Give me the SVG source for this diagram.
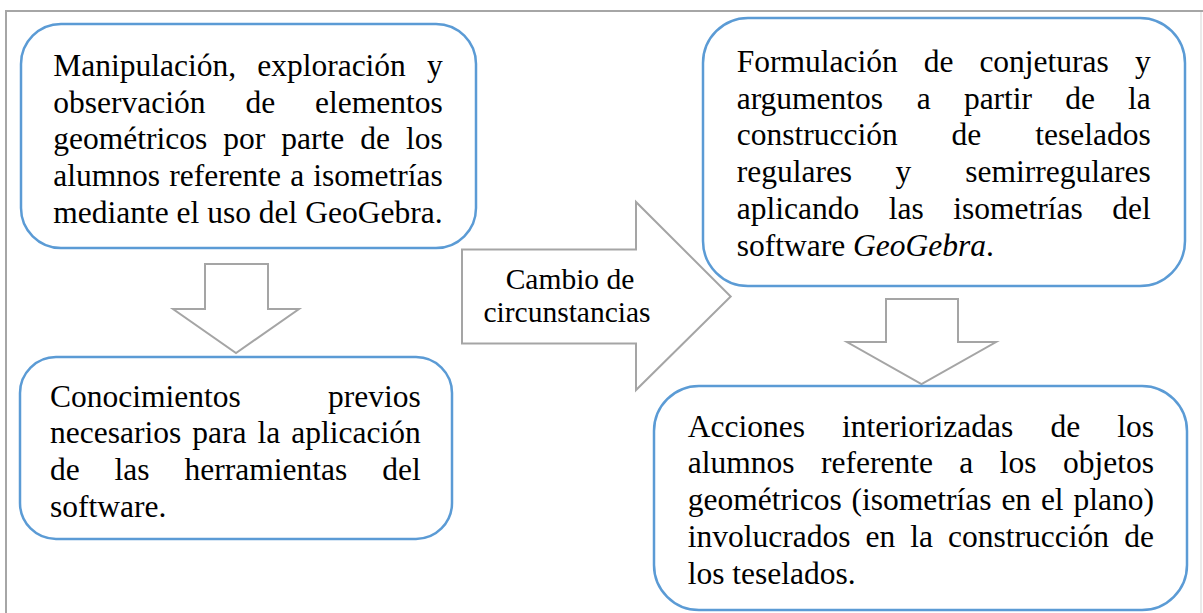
<svg xmlns="http://www.w3.org/2000/svg" width="1203" height="613" viewBox="0 0 1203 613">
<style>
.frame{stroke:#a6a6a6;stroke-width:2;fill:none}
.frame-r{stroke:#e3e3e3;stroke-width:1.5;fill:none}
.box{fill:#ffffff;stroke:#5b9bd5;stroke-width:2.5}
.blk{fill:#ffffff;stroke:#a5a5a5;stroke-width:2;stroke-linejoin:miter}
text{font-family:"Liberation Serif","Times New Roman",serif;font-size:31.5px;fill:#000000}
.lbl{font-size:29.5px;text-anchor:middle}
.e{text-anchor:end}
.i{font-style:italic}
</style>
<rect width="1203" height="613" fill="#ffffff"/>
<g id="frame">
<line class="frame" x1="6" y1="11" x2="1203" y2="11"/>
<line class="frame" x1="6" y1="10" x2="6" y2="613"/>
<line class="frame-r" x1="1201" y1="12" x2="1201" y2="613"/>
</g>
<g id="connectors">
<polygon class="blk" points="205,264 268,264 268,309 299,309 236,353 173,309 205,309"/>
<polygon class="blk" points="886,299 958,299 958,342 996,342 921.5,384 847,342 886,342"/>
<polygon class="blk" points="462,249.5 636,249.5 636,202 730.7,296.5 636,390 636,343.5 462,343.5"/>
<text class="lbl" x="570" y="289.3">Cambio de</text>
<text class="lbl" x="567" y="321.7">circunstancias</text>
</g>
<g id="node-manipulacion">
<rect class="box" x="21" y="24" width="455" height="224" rx="40" ry="40"/>
<text x="53.3" y="76">Manipulación,</text><text x="257.2" y="76">exploración</text><text class="e" x="442.7" y="76">y</text>
<text x="53.3" y="112.7">observación</text><text x="245.4" y="112.7">de</text><text class="e" x="442.7" y="112.7">elementos</text>
<text x="53.3" y="149.3">geométricos</text><text x="223.3" y="149.3">por</text><text x="281.3" y="149.3">parte</text><text x="360.3" y="149.3">de</text><text class="e" x="442.7" y="149.3">los</text>
<text x="53.3" y="186">alumnos</text><text x="169.2" y="186">referente</text><text x="290.2" y="186">a</text><text class="e" x="442.7" y="186">isometrías</text>
<text x="53.3" y="222.7">mediante el uso del GeoGebra.</text>
</g>
<g id="node-conocimientos">
<rect class="box" x="20" y="357" width="432" height="182" rx="36" ry="36"/>
<text x="50" y="406.7">Conocimientos</text><text class="e" x="420.7" y="406.7">previos</text>
<text x="50" y="443.3">necesarios</text><text x="192.2" y="443.3">para</text><text x="257.4" y="443.3">la</text><text class="e" x="420.7" y="443.3">aplicación</text>
<text x="50" y="480">de</text><text x="114.6" y="480">las</text><text x="184.5" y="480">herramientas</text><text class="e" x="420.7" y="480">del</text>
<text x="50" y="516.7">software.</text>
</g>
<g id="node-formulacion">
<rect class="box" x="703" y="18" width="482" height="268" rx="45" ry="45"/>
<text x="736.7" y="71.7">Formulación</text><text x="923.7" y="71.7">de</text><text x="979.4" y="71.7">conjeturas</text><text class="e" x="1150.7" y="71.7">y</text>
<text x="736.7" y="108.5">argumentos</text><text x="916.8" y="108.5">a</text><text x="963.9" y="108.5">partir</text><text x="1065.2" y="108.5">de</text><text class="e" x="1150.7" y="108.5">la</text>
<text x="736.7" y="145.3">construcción</text><text x="951.6" y="145.3">de</text><text class="e" x="1150.7" y="145.3">teselados</text>
<text x="736.7" y="182.1">regulares</text><text x="895.6" y="182.1">y</text><text class="e" x="1150.7" y="182.1">semirregulares</text>
<text x="736.7" y="218.9">aplicando</text><text x="888.7" y="218.9">las</text><text x="953.2" y="218.9">isometrías</text><text class="e" x="1150.7" y="218.9">del</text>
<text x="736.7" y="255.7">software <tspan class="i">GeoGebra</tspan>.</text>
</g>
<g id="node-acciones">
<rect class="box" x="654" y="386" width="533" height="224" rx="45" ry="45"/>
<text x="687.7" y="436.7">Acciones</text><text x="841.9" y="436.7">interiorizadas</text><text x="1050.4" y="436.7">de</text><text class="e" x="1154" y="436.7">los</text>
<text x="687.7" y="473.4">alumnos</text><text x="821" y="473.4">referente</text><text x="959.3" y="473.4">a</text><text x="999.8" y="473.4">los</text><text class="e" x="1154" y="473.4">objetos</text>
<text x="687.7" y="510.1">geométricos</text><text x="851.5" y="510.1">(isometrías</text><text x="1001.4" y="510.1">en</text><text x="1040.9" y="510.1">el</text><text class="e" x="1154" y="510.1">plano)</text>
<text x="687.7" y="546.8">involucrados</text><text x="865.5" y="546.8">en</text><text x="910.3" y="546.8">la</text><text x="948.1" y="546.8">construcción</text><text class="e" x="1154" y="546.8">de</text>
<text x="687.7" y="583.5">los teselados.</text>
</g>
</svg>
